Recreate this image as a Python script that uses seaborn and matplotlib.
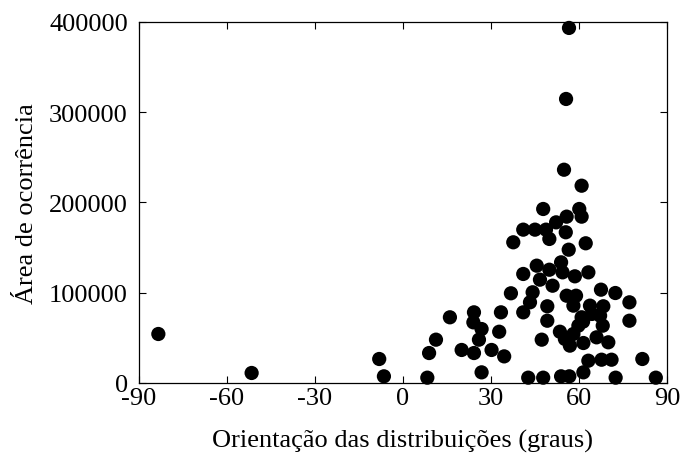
import matplotlib
matplotlib.use("Agg")
import matplotlib.pyplot as plt
import seaborn as sns
import pandas as pd

# Orientation (degrees) and occurrence area
orientacao = [
    -83.4, -51.6, -8.1, -6.5, 8.3, 8.9, 11.25, 16.0, 20.0, 24.0, 24.2, 24.2,
    25.9, 26.8, 26.8, 30.2, 32.8, 33.4, 34.5, 36.8, 37.6, 41.0, 41.0, 41.0,
    42.7, 43.3, 44.2, 45.0, 45.6, 46.7, 47.3, 47.8, 47.8, 48.75, 49.2, 49.2,
    49.9, 49.9, 51.0, 52.2, 53.5, 53.9, 53.9, 54.4, 54.9, 55.2, 55.5, 55.6,
    55.8, 55.8, 56.5, 56.6, 56.7, 56.9, 58.1, 58.1, 58.6, 59.0, 59.8, 60.1,
    60.9, 60.9, 60.9, 61.4, 61.5, 61.5, 62.3, 63.2, 63.2, 63.75, 64.4, 66.0,
    67.2, 67.5, 67.7, 68.1, 68.3, 70.0, 71.1, 72.4, 72.5, 77.2, 77.2, 81.6,
    86.2,
]
area = [
    54300, 11100, 26600, 7400, 5900, 33200, 48000, 72800, 36600, 67200, 78300, 33200,
    48000, 59800, 11800, 36600, 56800, 78300, 29500, 99400, 155900, 169900, 120800, 78300,
    5900, 89400, 100500, 169900, 130000, 114500, 48000, 192800, 5900, 169900, 85000, 69000,
    159600, 125500, 107800, 178000, 56800, 133700, 7400, 122600, 236300, 48800, 167000, 314700,
    184300, 96700, 147700, 393400, 7400, 41400, 85700, 54300, 118200, 96700, 63500, 192800,
    218600, 184300, 72800, 68000, 44300, 11800, 154800, 122600, 24700, 85700, 76500, 50600,
    74600, 103400, 25800, 63500, 85000, 45100, 25800, 99700, 5900, 89400, 69000, 26600,
    5900,
]

x_ticks = [-90, -60, -30, 0, 30, 60, 90]
y_ticks = [0, 100000, 200000, 300000, 400000]
x_label = "Orientação das distribuições (graus)"
y_label = "Área de ocorrência"

df = pd.DataFrame({"orientacao": orientacao, "area": area})

sns.set_style("ticks")
plt.rcParams["font.family"] = ["Liberation Serif", "DejaVu Serif"]
plt.rcParams["font.size"] = 19
plt.rcParams["text.color"] = "black"
plt.rcParams["axes.labelcolor"] = "black"

fig = plt.figure(figsize=(6.81, 4.56), dpi=100)
ax = fig.add_axes([0.2041, 0.1579, 0.9794 - 0.2041, 0.9496 - 0.1579])

sns.scatterplot(data=df, x="orientacao", y="area", ax=ax, color="black",
                s=105, edgecolor="none", linewidth=0, clip_on=False, zorder=3)

ax.set_xlim(-90, 90)
ax.set_ylim(0, 400000)
ax.set_xticks(x_ticks)
ax.set_yticks(y_ticks)
ax.set_xticklabels([str(t) for t in x_ticks])
ax.set_yticklabels([str(t) for t in y_ticks])
ax.tick_params(direction="in", top=True, right=True, length=5, width=0.8,
               labelsize=19, colors="black")
ax.tick_params(axis="x", pad=3)
ax.tick_params(axis="y", pad=8)
for sp in ax.spines.values():
    sp.set_visible(True)
    sp.set_color("black")
    sp.set_linewidth(0.9)
ax.set_xlabel(x_label, fontsize=19, labelpad=14, color="black")
ax.set_ylabel(y_label, fontsize=19, labelpad=8, color="black")

fig.savefig("out.png", dpi=100)
